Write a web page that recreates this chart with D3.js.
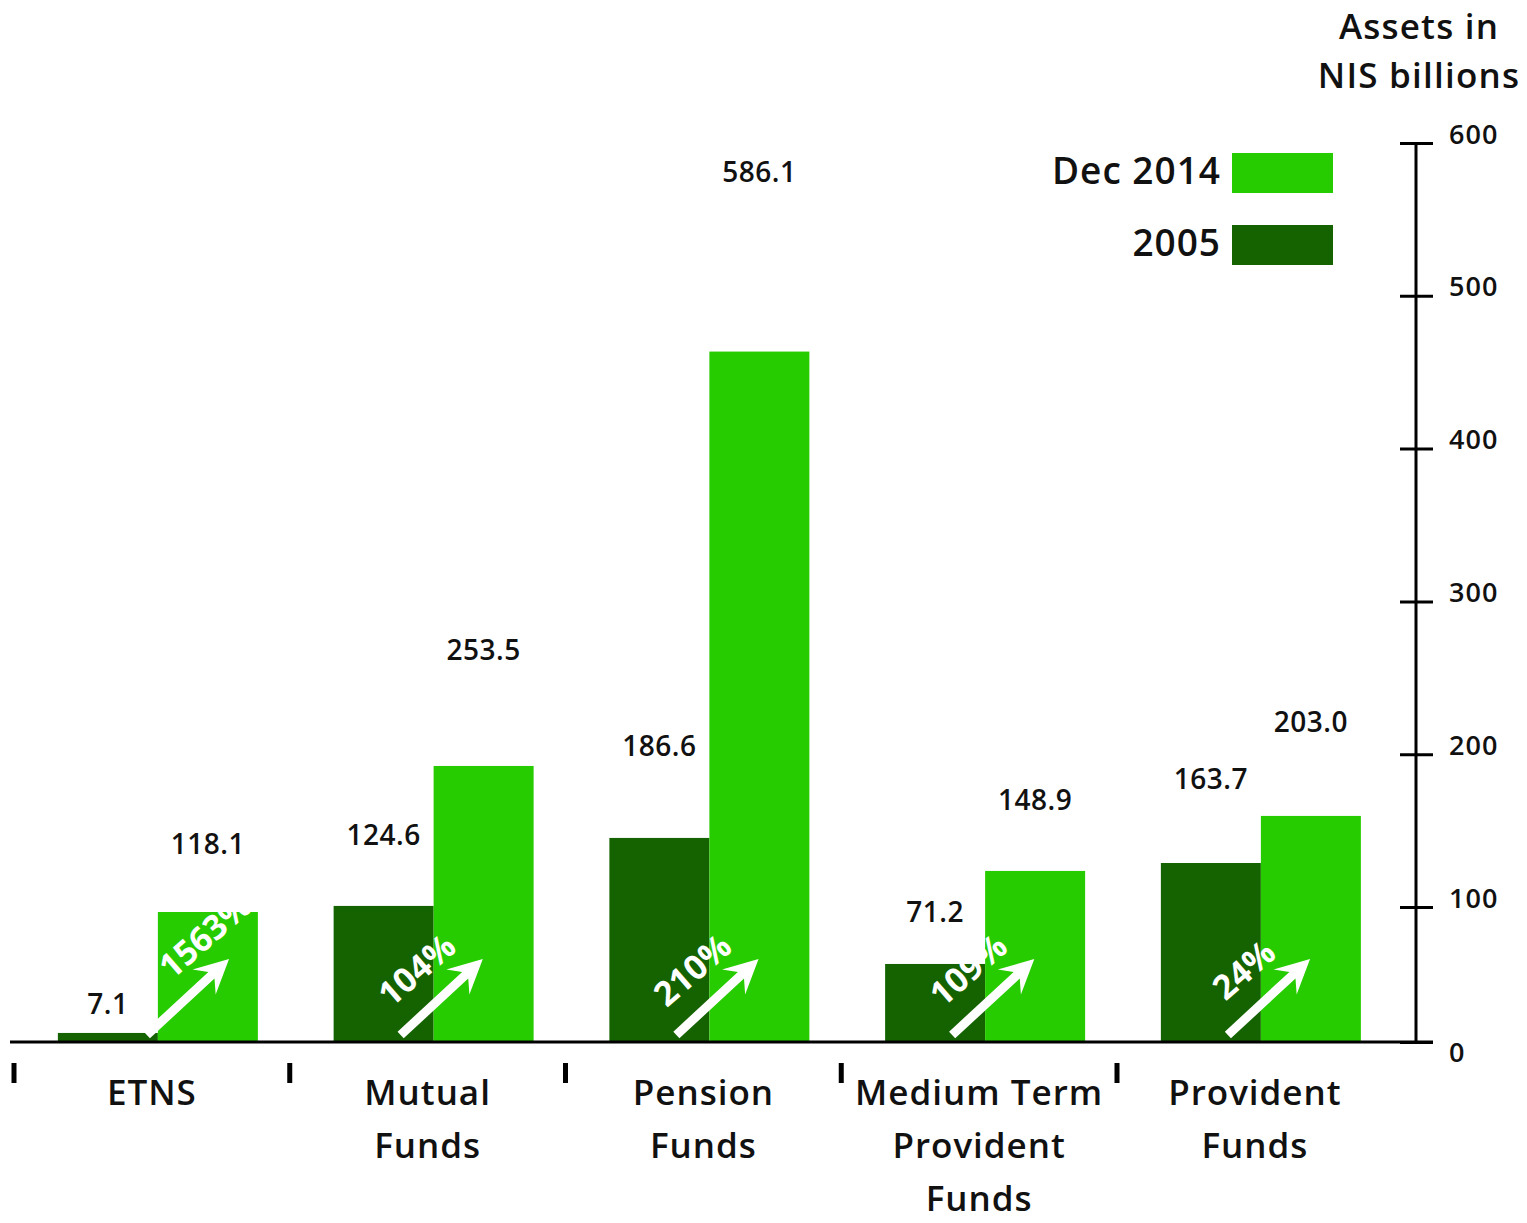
<!DOCTYPE html>
<html>
<head>
<meta charset="utf-8">
<script src="https://cdn.jsdelivr.net/npm/d3@7"></script>
<style>
  body { margin: 0; background: #fff; }
  text { font-family: "Open Sans", sans-serif; }
</style>
</head>
<body>
<svg id="canvas"></svg>
<script>
let categories = [["ETNS"], ["Mutual", "Funds"], ["Pension", "Funds"], ["Medium Term", "Provident", "Funds"], ["Provident", "Funds"]];
let keys = ["ETNS", "Mutual", "Pension", "Medium", "Provident"];

// bar heights as drawn against the right axis
let bars2005 = [6.7, 100.7, 145.2, 57.8, 128.8];
let bars2014 = [96.3, 192.3, 463.5, 123.6, 159.6];

// printed value labels
let labels2005 = [7.1, 124.6, 186.6, 71.2, 163.7];
let labels2014 = [118.1, 253.5, 586.1, 148.9, 203.0];

let growth = ["1563%", "104%", "210%", "109%", "24%"];
let yTicks = [0, 100, 200, 300, 400, 500, 600];

let seriesNames = ["Dec 2014", "2005"];
let colors = ["#27cc00", "#146300"];

let width = 1527, height = 1223;

let svg = d3.select('#canvas')
            .attr("width", width)
            .attr("height", height);

let x = d3.scaleBand()
          .domain(keys)
          .range([20, 1398.75])
          .padding(0);

// axis is not proportional below 100
let y = d3.scaleLinear()
          .domain([0, 100, 600])
          .range([1042, 907, 143]);

// value labels sit on their own even scale
let yLabel = d3.scaleLinear()
               .domain([0, 600])
               .range([1024, 162]);

let barW = 100;
let axisX = 1416;

let groups = svg.selectAll("g.group")
                .data(keys)
                .enter()
                .append("g")
                .attr("class", "group")
                .attr("transform", (d) => "translate(" + (x(d) + x.bandwidth() / 2) + ",0)");

groups.append("rect")
      .attr("x", -barW)
      .attr("width", barW)
      .attr("y", (d, i) => y(bars2005[i]))
      .attr("height", (d, i) => y(0) - y(bars2005[i]))
      .attr("fill", colors[1]);

groups.append("rect")
      .attr("x", 0)
      .attr("width", barW)
      .attr("y", (d, i) => y(bars2014[i]))
      .attr("height", (d, i) => y(0) - y(bars2014[i]))
      .attr("fill", colors[0]);

groups.append("text")
      .text((d, i) => labels2005[i].toFixed(1))
      .attr("x", -barW / 2)
      .attr("y", (d, i) => yLabel(labels2005[i]))
      .attr("text-anchor", "middle")
      .style("font-size", "28px")
      .style("font-weight", "600")
      .style("letter-spacing", "0.5px")
      .attr("fill", "#111");

groups.append("text")
      .text((d, i) => labels2014[i].toFixed(1))
      .attr("x", barW / 2)
      .attr("y", (d, i) => yLabel(labels2014[i]))
      .attr("text-anchor", "middle")
      .style("font-size", "28px")
      .style("font-weight", "600")
      .style("letter-spacing", "0.5px")
      .attr("fill", "#111");

// growth arrow + percent, moved into the 2014 bar when the 2005 bar is too short
let shift = (i) => bars2005[i] < 20 ? 1 : 0;
let arrowLen = 112;
let arrowPath = "M0,-4.5 L" + (arrowLen - 24) + ",-4.5 L" + (arrowLen - 34) + ",-17 L" + arrowLen + ",0 L" +
                (arrowLen - 34) + ",17 L" + (arrowLen - 24) + ",4.5 L0,4.5 Z";

groups.append("path")
      .attr("d", arrowPath)
      .attr("fill", "#fff")
      .attr("transform", (d, i) => "translate(" + (-33 + shift(i) * 22) + "," + (y(0) - 7) + ") rotate(-42.8)");

groups.append("text")
      .text((d, i) => growth[i])
      .attr("text-anchor", "middle")
      .attr("dy", "0.35em")
      .attr("transform", (d, i) => "translate(" + (-17 + shift(i) * 64) + "," + (970 - shift(i) * 34) + ") rotate(-41)")
      .style("font-size", "34px")
      .style("font-weight", "700")
      .attr("fill", "#fff");

// category labels and little separators
groups.append("rect")
      .attr("x", -x.bandwidth() / 2 - 6 - 2.5)
      .attr("y", 1063)
      .attr("width", 5)
      .attr("height", 20)
      .attr("fill", "#000");

groups.append("text")
      .attr("text-anchor", "middle")
      .style("font-size", "35px")
      .style("font-weight", "600")
      .style("letter-spacing", "1px")
      .attr("fill", "#111")
      .selectAll("tspan")
      .data((d, i) => categories[i])
      .enter()
      .append("tspan")
      .attr("x", -6)
      .attr("y", (d, j) => 1105 + j * 53)
      .text((d) => d);

// baseline
svg.append("line")
   .attr("x1", 10)
   .attr("x2", axisX + 17)
   .attr("y1", y(0))
   .attr("y2", y(0))
   .attr("stroke", "#000")
   .attr("stroke-width", 3);

// right axis
let axis = d3.axisRight(y)
             .tickValues(yTicks)
             .tickSize(17)
             .tickPadding(16);

let axisG = svg.append("g")
               .attr("transform", "translate(" + axisX + ",0)")
               .call(axis);

axisG.select(".domain")
     .attr("d", "M0," + y(0) + "V" + y(600))
     .attr("stroke", "#000")
     .attr("stroke-width", 3);

axisG.selectAll(".tick line")
     .attr("x1", -16)
     .attr("stroke", "#000")
     .attr("stroke-width", 3);

axisG.selectAll(".tick text")
     .attr("dy", (d) => d === 0 ? "0.72em" : "0em")
     .attr("fill", "#111")
     .style("font-family", "'Open Sans', sans-serif")
     .style("font-size", "27px")
     .style("font-weight", "600")
     .style("letter-spacing", "1px");

// axis title
svg.append("text")
   .attr("text-anchor", "middle")
   .style("font-size", "35px")
   .style("font-weight", "600")
   .style("letter-spacing", "1.2px")
   .attr("fill", "#111")
   .selectAll("tspan")
   .data(["Assets in", "NIS billions"])
   .enter()
   .append("tspan")
   .attr("x", axisX + 3)
   .attr("y", (d, i) => 39 + i * 49)
   .text((d) => d);

// legend
let legend = svg.selectAll("g.legend")
                .data(seriesNames)
                .enter()
                .append("g")
                .attr("class", "legend")
                .attr("transform", (d, i) => "translate(1232," + (153 + i * 72) + ")");

legend.append("rect")
      .attr("width", 101)
      .attr("height", 40)
      .attr("fill", (d, i) => colors[i]);

legend.append("text")
      .text((d) => d)
      .attr("x", -11)
      .attr("y", 31)
      .attr("text-anchor", "end")
      .style("font-size", "37px")
      .style("font-weight", "600")
      .style("letter-spacing", "1px")
      .attr("fill", "#111");
</script>
</body>
</html>
